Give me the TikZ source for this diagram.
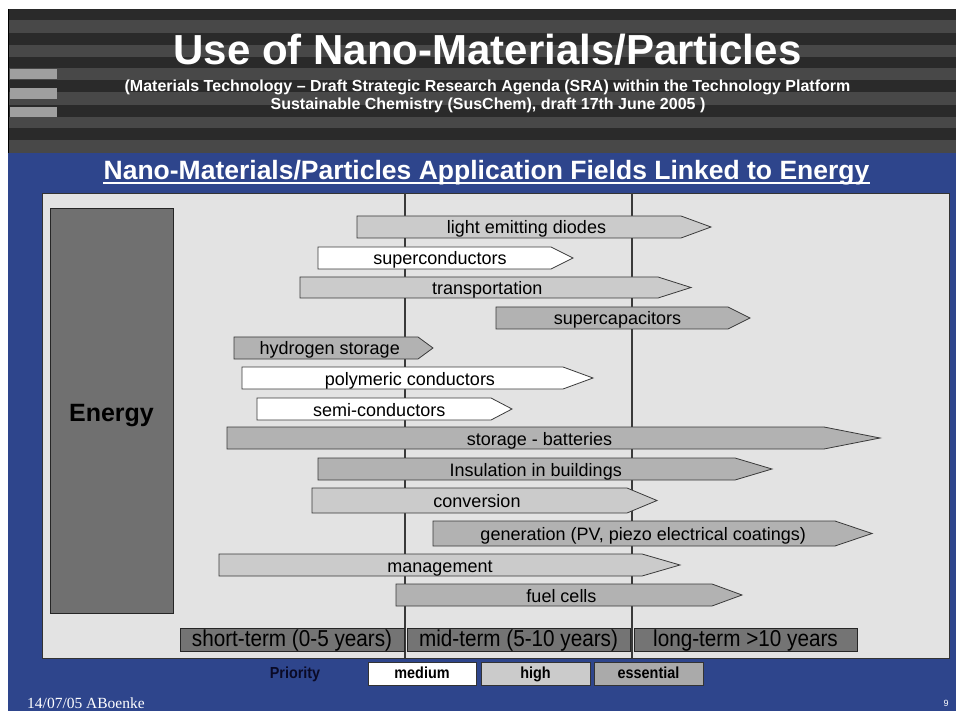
\documentclass[tikz,border=0pt]{standalone}
\usepackage{fontspec}
\setmainfont{Liberation Sans}
\newfontfamily\narrowfont[FakeStretch=0.9]{Liberation Sans}
\newfontfamily\seriffont{Liberation Serif}
\definecolor{slideblue}{RGB}{46,69,140}
\definecolor{stripedark}{HTML}{2A2A2A}
\definecolor{stripelight}{HTML}{484848}
\definecolor{panelgray}{HTML}{E3E3E3}
\definecolor{highgray}{HTML}{CBCBCB}
\definecolor{essgray}{HTML}{B2B2B2}
\definecolor{energygray}{HTML}{707070}
\definecolor{timegray}{HTML}{747474}
\definecolor{linegray}{HTML}{3A3A3A}
\definecolor{prioblue}{HTML}{0A0A26}
\tikzset{
  arrowshape/.style={draw=linegray, line width=0.8pt, line join=miter},
  arrowlabel/.style={anchor=base, inner sep=0pt, font=\fontsize{18}{20}\selectfont, text=black},
  vline/.style={draw=linegray, line width=1.2pt},
  timebox/.style={draw=black!85, line width=0.8pt, fill=timegray},
  timelabel/.style={anchor=base, inner sep=0pt, font=\narrowfont\fontsize{23}{25}\selectfont, text=black},
  legbox/.style={draw=black!80, line width=0.8pt},
  leglabel/.style={anchor=base, inner sep=0pt, font=\narrowfont\bfseries\fontsize{16}{18}\selectfont, text=black},
}
\newcommand\fieldarrow[8]{%
  \draw[arrowshape, fill=#7] (#2,#5) -- (#3,#5) -- (#4,{(#5+#6)/2}) -- (#3,#6) -- (#2,#6) -- cycle;
  \node[arrowlabel] (#1) at ({0.5*#2+0.25*#3+0.25*#4},{(#5+#6)/2+7}) {#8};
}
\begin{document}
\begin{tikzpicture}[x=1pt, y=-1pt]
\useasboundingbox (0,0) rectangle (956,711);
\fill[white] (0,0) rectangle (956,711);
% blue slide body
\fill[slideblue] (8,150) rectangle (956,711);
% header stripes
\fill[stripedark] (8,9) rectangle (956,153);
\foreach \a/\b in {20/33, 45/57, 68/80, 92/105, 117/128, 140/153}
  \fill[stripelight] (8,\a) rectangle (956,\b);
\draw[black, line width=0.8pt] (8.4,9) -- (8.4,153);
\foreach \a/\b in {69/79, 88/99, 107/117}
  \fill[gray!75] (10,\a) rectangle (57,\b);
% title
\node[anchor=base, inner sep=0pt, font=\bfseries\fontsize{42}{44}\selectfont, text=white] (title) at (487.5,65) {Use of Nano-Materials/Particles};
\node[anchor=base, inner sep=0pt, font=\bfseries\fontsize{16}{18}\selectfont, text=white] (sub1) at (487.5,92) {(Materials Technology -- Draft Strategic Research Agenda (SRA) within the Technology Platform};
\node[anchor=base, inner sep=0pt, font=\bfseries\fontsize{16}{18}\selectfont, text=white] (sub2) at (488,110) {Sustainable Chemistry (SusChem), draft 17th June 2005 )};
% subheader
\node[anchor=base, inner sep=0pt, font=\bfseries\fontsize{26.5}{28}\selectfont, text=white] (subhead) at (486.5,180) {Nano-Materials/Particles Application Fields Linked to Energy};
\draw[white, line width=2pt] ([yshift=-3.5pt]subhead.base west) -- ([yshift=-3.5pt]subhead.base east);
% panel
\draw[fill=panelgray, draw=black!80, line width=0.8pt] (42,193) rectangle (949,658);
\draw[vline] (405,193) -- (405,658);
\draw[vline] (632,193) -- (632,658);
% energy box
\draw[fill=energygray, draw=black!85, line width=0.8pt] (50,208) rectangle (173,613);
\node[anchor=base, inner sep=0pt, font=\bfseries\fontsize{25}{27}\selectfont, text=black] (energy) at (111.5,421) {Energy};
% arrows
\fieldarrow{led}{357}{681}{711}{216}{238}{highgray}{light emitting diodes}
\fieldarrow{supercond}{318}{551}{573}{247}{269}{white}{superconductors}
\fieldarrow{transp}{300}{658}{691}{277}{298}{highgray}{transportation}
\fieldarrow{supercap}{496}{728}{750}{307}{329}{essgray}{supercapacitors}
\fieldarrow{hydrogen}{234}{418}{433}{337}{359}{essgray}{hydrogen storage}
\fieldarrow{polymeric}{242}{563}{593}{367}{389}{white}{polymeric conductors}
\fieldarrow{semicond}{257}{491}{512}{398}{420}{white}{semi-conductors}
\fieldarrow{batteries}{227}{824}{880}{427}{449}{essgray}{storage - batteries}
\fieldarrow{insulation}{318}{735}{772}{458}{480}{essgray}{Insulation in buildings}
\fieldarrow{conversion}{312}{627}{657}{488}{513}{highgray}{conversion}
\fieldarrow{generation}{433}{835}{872}{521}{546}{essgray}{generation (PV, piezo electrical coatings)}
\fieldarrow{management}{219}{642}{680}{554}{576}{highgray}{management}
\fieldarrow{fuelcells}{396}{712}{742}{584}{606}{essgray}{fuel cells}
% time boxes
\draw[timebox] (180,628) rectangle (404,651);
\node[timelabel] (short) at (292,646) {short-term (0-5 years)};
\draw[timebox] (407,628) rectangle (630,651);
\node[timelabel] (mid) at (518.5,646) {mid-term (5-10 years)};
\draw[timebox] (634,628) rectangle (857,651);
\node[timelabel] (long) at (745.5,646) {long-term >10 years};
% legend
\node[leglabel, text=prioblue] (priority) at (295,678) {Priority};
\draw[legbox, fill=white] (368,662) rectangle (476,685);
\node[leglabel] (medium) at (422,678) {medium};
\draw[legbox, fill=highgray] (481,662) rectangle (590,685);
\node[leglabel] (high) at (535.5,678) {high};
\draw[legbox, fill=essgray!110] (594,662) rectangle (703,685);
\node[leglabel] (essential) at (648.5,678) {essential};
% footer
\node[anchor=base west, inner sep=0pt, font=\seriffont\fontsize{15.5}{17}\selectfont, text=white] (footer) at (27,708) {14/07/05 ABoenke};
\node[anchor=base, inner sep=0pt, font=\fontsize{9}{10}\selectfont, text=white] (pagenum) at (946,706) {9};
\end{tikzpicture}
\end{document}
